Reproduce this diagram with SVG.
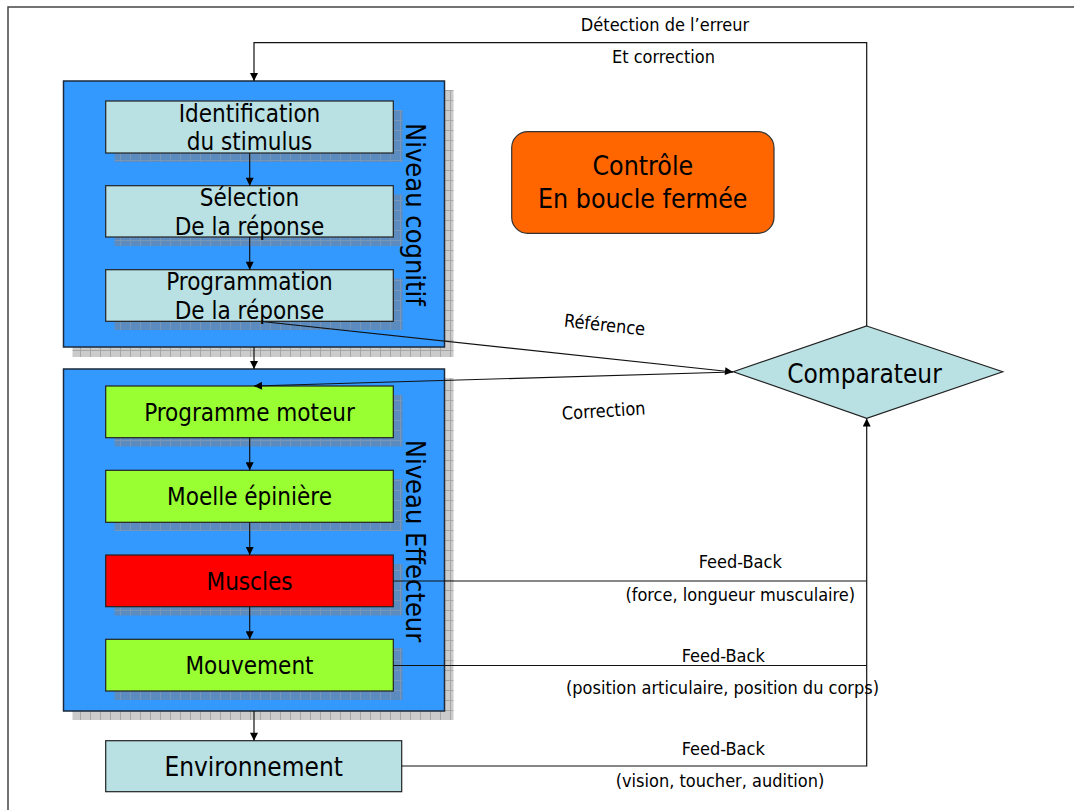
<svg xmlns="http://www.w3.org/2000/svg" width="1074" height="810" viewBox="0 0 1074 810">
<defs>
<pattern id="gridOuter" width="10" height="10" patternUnits="userSpaceOnUse">
<rect width="10" height="10" fill="#cbcbcb"/>
<path d="M0,0.5H10M0.5,0V10" stroke="#a6a6a6" stroke-width="1"/>
</pattern>
<pattern id="gridInner" width="10" height="10" patternUnits="userSpaceOnUse">
<rect width="10" height="10" fill="#5b8bbf"/>
<path d="M0,0.5H10M0.5,0V10" stroke="#7796b8" stroke-width="1"/>
</pattern>
<marker id="arr" viewBox="0 0 10 10" refX="10" refY="5" markerWidth="9" markerHeight="8" markerUnits="userSpaceOnUse" orient="auto">
<path d="M0,0L10,5L0,10z" fill="#000"/>
</marker>
</defs>
<style>
.t{font-family:"DejaVu Sans Condensed","DejaVu Sans",sans-serif;fill:#000;text-anchor:middle}
.box{stroke:#222;stroke-width:1.2}
.outer{fill:#3399ff;stroke:#1c2a3a;stroke-width:1.5}
.oshadow{fill:url(#gridOuter)}
.ishadow{fill:url(#gridInner)}
.cyan{fill:#b9e0e3}
.green{fill:#99ff33}
.red{fill:#ff0000}
.b24{font-size:24px}
.b26{font-size:26px}
.v27{font-size:27px}
.o26{font-size:26.5px}
.s18{font-size:18px}
.c{fill:none;stroke:#111;stroke-width:1.2}
.frame{fill:none;stroke:#444;stroke-width:1.5}
</style>
<rect width="1074" height="810" fill="#fff"/>
<path class="frame" d="M8,810V7H1074"/>

<g id="niveau-cognitif">
<rect class="oshadow" x="72.5" y="90" width="381" height="267"/>
<rect class="outer" x="63.5" y="81" width="381" height="266"/>
<text class="t v27" transform="translate(406,214.5) rotate(90)">Niveau cognitif</text>
</g>
<g id="identification">
<rect class="ishadow" x="114.5" y="110" width="288" height="52"/>
<rect class="box cyan" x="105.7" y="101" width="287.6" height="52"/>
<text class="t b24" x="249.5" y="122">Identification</text>
<text class="t b24" x="249.5" y="150">du stimulus</text>
</g>
<g id="selection">
<rect class="ishadow" x="114.5" y="194.5" width="288" height="51.5"/>
<rect class="box cyan" x="105.7" y="185.7" width="287.6" height="51.3"/>
<text class="t b24" x="249.5" y="206">Sélection</text>
<text class="t b24" x="249.5" y="235">De la réponse</text>
</g>
<g id="programmation">
<rect class="ishadow" x="114.5" y="278.5" width="288" height="51.5"/>
<rect class="box cyan" x="105.7" y="269.7" width="287.6" height="51.6"/>
<text class="t b24" x="249.5" y="290">Programmation</text>
<text class="t b24" x="249.5" y="319">De la réponse</text>
</g>

<g id="niveau-effecteur">
<rect class="oshadow" x="72.5" y="378" width="381" height="342"/>
<rect class="outer" x="63.5" y="369" width="381" height="342"/>
<text class="t v27" transform="translate(406,541) rotate(90)">Niveau Effecteur</text>
</g>
<g id="programme-moteur">
<rect class="ishadow" x="114.5" y="395" width="288" height="51.5"/>
<rect class="box green" x="105.7" y="386" width="287.6" height="51.7"/>
<text class="t b24" x="249.5" y="421">Programme moteur</text>
</g>
<g id="moelle">
<rect class="ishadow" x="114.5" y="479" width="288" height="52"/>
<rect class="box green" x="105.7" y="470.3" width="287.6" height="52"/>
<text class="t b24" x="249.5" y="505">Moelle épinière</text>
</g>
<g id="muscles">
<rect class="ishadow" x="114.5" y="564" width="288" height="51.5"/>
<rect class="box red" x="105.7" y="555" width="287.6" height="51.7"/>
<text class="t b24" x="249.5" y="590">Muscles</text>
</g>
<g id="mouvement">
<rect class="ishadow" x="114.5" y="648" width="288" height="52"/>
<rect class="box green" x="105.7" y="639.3" width="287.6" height="51.7"/>
<text class="t b24" x="249.5" y="674">Mouvement</text>
</g>

<g id="environnement">
<rect class="box cyan" x="105.7" y="740.7" width="296" height="51"/>
<text class="t b26" x="253.7" y="776">Environnement</text>
</g>

<g id="controle">
<rect x="511.7" y="131.7" width="262.3" height="101.6" rx="16" ry="16" fill="#ff6600" stroke="#333" stroke-width="1.2"/>
<text class="t o26" x="642.8" y="175">Contrôle</text>
<text class="t o26" x="642.8" y="208">En boucle fermée</text>
</g>

<g id="comparateur">
<polygon class="box" points="866.7,326 1002.7,371.7 866.7,418.3 733.3,371.7" fill="#b9e0e3"/>
<text class="t b26" x="864.5" y="383">Comparateur</text>
</g>

<g id="connectors">
<path class="c" d="M866.7,326V42.7H254V81" marker-end="url(#arr)"/>
<path class="c" d="M249.7,153V185.7" marker-end="url(#arr)"/>
<path class="c" d="M249.7,237V269.7" marker-end="url(#arr)"/>
<path class="c" d="M254,347V369" marker-end="url(#arr)"/>
<path class="c" d="M261.7,321.5L733,372" marker-end="url(#arr)"/>
<path class="c" d="M733,372L254,386" marker-end="url(#arr)"/>
<path class="c" d="M249.7,437.7V470.3" marker-end="url(#arr)"/>
<path class="c" d="M249.7,522.3V555" marker-end="url(#arr)"/>
<path class="c" d="M249.7,606.7V639.3" marker-end="url(#arr)"/>
<path class="c" d="M254,711V740.7" marker-end="url(#arr)"/>
<path class="c" d="M393.3,581H866.7"/>
<path class="c" d="M393.3,665.5H866.7"/>
<path class="c" d="M401.7,766H866.7V418.5" marker-end="url(#arr)"/>
</g>

<g id="labels">
<text class="t s18" x="665" y="31">Détection de l’erreur</text>
<text class="t s18" x="663.5" y="63">Et correction</text>
<text class="t s18" transform="translate(604,331) rotate(6.3)">Référence</text>
<text class="t s18" transform="translate(604,417) rotate(-3.7)">Correction</text>
<text class="t s18" x="740.3" y="568">Feed-Back</text>
<text class="t s18" x="740.3" y="601">(force, longueur musculaire)</text>
<text class="t s18" x="723.3" y="662">Feed-Back</text>
<text class="t s18" x="722.5" y="694">(position articulaire, position du corps)</text>
<text class="t s18" x="723.3" y="755">Feed-Back</text>
<text class="t s18" x="720" y="787">(vision, toucher, audition)</text>
</g>
</svg>
